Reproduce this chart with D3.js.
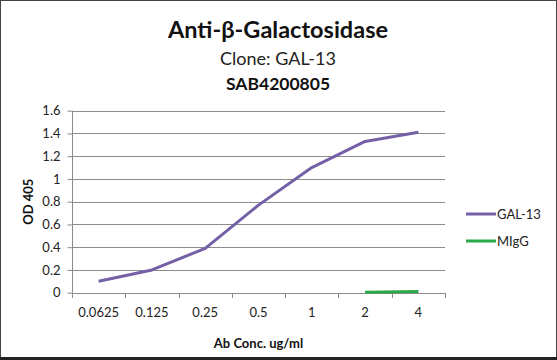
<!DOCTYPE html>
<html><head><meta charset="utf-8">
<script src="https://cdn.jsdelivr.net/npm/d3@7"></script>
<style>body{margin:0;background:#fff}svg{display:block}</style>
</head><body>
<script>
const categories = ["0.0625","0.125","0.25","0.5","1","2","4"];
const gal13 = [0.10,0.20,0.39,0.77,1.10,1.33,1.41];
const migg = [null,null,null,null,null,0.005,0.01];
const yTicks = [0,0.2,0.4,0.6,0.8,1,1.2,1.4,1.6];
const seriesNames = ["GAL-13","MIgG"];
const seriesColors = ["#7460a6","#2aa84a"];

const W=557,H=360;
const font="Lato, 'Open Sans', sans-serif";
const svg=d3.select("body").append("svg").attr("width",W).attr("height",H);
svg.append("rect").attr("x",0.5).attr("y",0.5).attr("width",W-1).attr("height",H-2)
  .attr("fill","#fff").attr("stroke","#444").attr("stroke-width",1);
svg.append("line").attr("x1",0).attr("x2",W).attr("y1",358.5).attr("y2",358.5).attr("stroke","#222").attr("stroke-width",3);

const m={l:72,r:445,t:110.7,b:292.7};
const x=d3.scaleBand().domain(categories).range([m.l,m.r]);
const y=d3.scaleLinear().domain([0,1.6]).range([m.b,m.t]);

// gridlines
svg.append("g").selectAll("line").data(yTicks.filter(d=>d>0)).join("line")
  .attr("x1",m.l).attr("x2",m.r).attr("y1",d=>Math.round(y(d))+0.5).attr("y2",d=>Math.round(y(d))+0.5)
  .attr("stroke","#8c8c8c").attr("stroke-width",1);

// y axis
const ya=svg.append("g").attr("transform",`translate(${m.l+0.5},0)`)
  .call(d3.axisLeft(y).tickValues(yTicks).tickSize(5).tickPadding(7).tickFormat(d=>d3.format("")(+d.toFixed(1))));
ya.select(".domain").attr("stroke","#8c8c8c").attr("d",`M0,${m.t}V${m.b}`);
ya.selectAll(".tick line").attr("stroke","#8c8c8c");
ya.selectAll(".tick text").attr("font-family",font).attr("font-size",13).attr("fill","#222");

// x axis
const xa=svg.append("g").attr("transform",`translate(0,${Math.round(m.b)+0.5})`)
  .call(d3.axisBottom(x).tickSize(0).tickPadding(14));
xa.select(".domain").attr("stroke","#8c8c8c").attr("d",`M${m.l},0H${m.r}`);
xa.selectAll(".tick text").attr("font-family",font).attr("font-size",13).attr("fill","#222");
const bounds=categories.map(c=>x(c)).concat([m.r]);
svg.append("g").selectAll("line").data(bounds).join("line")
  .attr("x1",d=>Math.round(d)+0.5).attr("x2",d=>Math.round(d)+0.5)
  .attr("y1",Math.round(m.b)).attr("y2",Math.round(m.b)+5).attr("stroke","#8c8c8c");

// lines
const cx=c=>x(c)+x.bandwidth()/2;
const line=d3.line().defined(d=>d.v!=null).x(d=>cx(d.c)).y(d=>y(d.v));
[gal13,migg].forEach((s,i)=>{
  svg.append("path").datum(categories.map((c,j)=>({c,v:s[j]})))
    .attr("d",line).attr("fill","none").attr("stroke",seriesColors[i])
    .attr("stroke-width",3).attr("stroke-linejoin","round");
});

// legend
const legY=[214,241];
seriesNames.forEach((n,i)=>{
  svg.append("line").attr("x1",466).attr("x2",496).attr("y1",legY[i]).attr("y2",legY[i])
    .attr("stroke",seriesColors[i]).attr("stroke-width",3);
  svg.append("text").attr("x",497).attr("y",legY[i]).attr("dy","0.35em")
    .attr("font-family",font).attr("font-size",13).attr("fill","#222").text(n);
});

// titles
svg.append("text").attr("x",278).attr("y",30).attr("dy","0.35em").attr("text-anchor","middle")
  .attr("font-family",font).attr("font-weight","bold").attr("font-size",23.5).attr("fill","#111").text("Anti-β-Galactosidase");
svg.append("text").attr("x",278).attr("y",59).attr("dy","0.35em").attr("text-anchor","middle")
  .attr("font-family",font).attr("font-size",18).attr("fill","#222").text("Clone: GAL-13");
svg.append("text").attr("x",278).attr("y",84).attr("dy","0.35em").attr("text-anchor","middle")
  .attr("font-family",font).attr("font-weight","bold").attr("font-size",17.5).attr("fill","#111").text("SAB4200805");
svg.append("text").attr("transform",`translate(28,${(m.t+m.b)/2}) rotate(-90)`).attr("dy","0.35em")
  .attr("text-anchor","middle").attr("font-family",font).attr("font-weight","bold").attr("font-size",13)
  .attr("fill","#111").text("OD 405");
svg.append("text").attr("x",(m.l+m.r)/2).attr("y",343).attr("dy","0.35em").attr("text-anchor","middle")
  .attr("font-family",font).attr("font-weight","bold").attr("font-size",13).attr("fill","#111").text("Ab Conc. ug/ml");
</script>
</body></html>
